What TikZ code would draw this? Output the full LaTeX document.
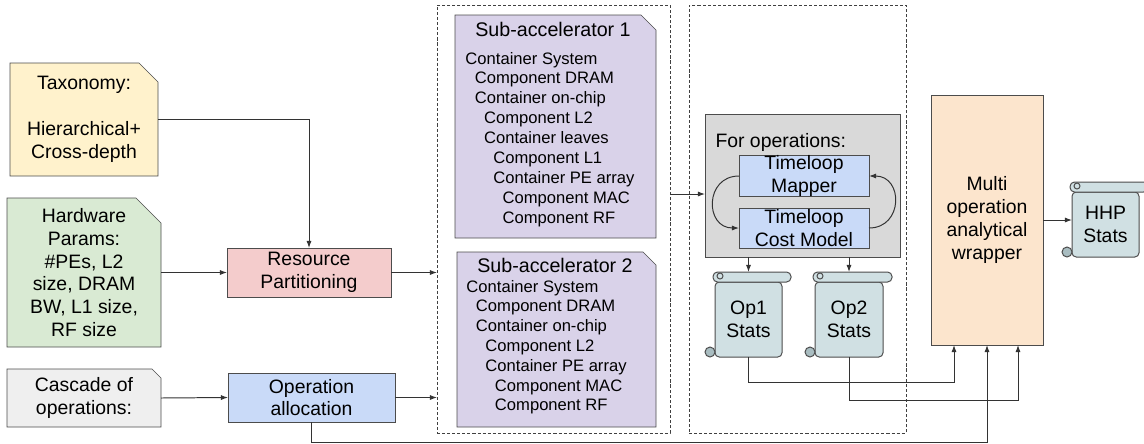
\documentclass[tikz,border=0pt]{standalone}
\usepackage{fontspec}
\setmainfont{Liberation Sans}
\usetikzlibrary{arrows.meta,calc,backgrounds}

\definecolor{taxfill}{HTML}{FFF2CC}
\definecolor{hwfill}{HTML}{D9EAD3}
\definecolor{cascfill}{HTML}{EFEFEF}
\definecolor{rpfill}{HTML}{F4CCCC}
\definecolor{blufill}{HTML}{C9DAF8}
\definecolor{subfill}{HTML}{D9D2E9}
\definecolor{opsfill}{HTML}{D9D9D9}
\definecolor{orfill}{HTML}{FCE5CD}
\definecolor{scrollfill}{HTML}{D0E0E3}
\definecolor{curlfill}{HTML}{A9BDC1}

\begin{document}
\begin{tikzpicture}[
  x=0.025cm, y=-0.025cm,
  line width=0.7pt,
  sz/.style 2 args={minimum width=#1*0.025cm, minimum height=#2*0.025cm},
  box/.style={draw=black!70, inner sep=0pt, outer sep=0pt, align=center,
    font=\fontsize{13.8}{16.2}\selectfont},
  note/.style={inner sep=0pt, outer sep=0pt, align=center,
    font=\fontsize{13.8}{16.2}\selectfont},
  scroll/.style={box, fill=scrollfill, rounded corners=3pt},
  frame/.style={draw=black!75, dash pattern=on 2.2pt off 1.4pt, inner sep=0pt, outer sep=0pt},
  title/.style={inner sep=0pt, font=\fontsize{14}{16}\selectfont},
  item/.style={inner sep=0pt, anchor=base west, font=\fontsize{11.8}{14.2}\selectfont},
  conn/.style={draw=black!80, -{Latex[length=5pt,width=3.6pt]}}
]
  \useasboundingbox (0,0) rectangle (1144,443);

  % dashed frames
  \node[frame, sz={233}{428}] (frame1) at (553.5,219) {};
  \node[frame, sz={217}{428}] (frame2) at (797.5,219) {};

  % inputs
  \node[note, sz={148}{113}] (tax) at (84,119.5) {Taxonomy:\\[16.2pt]Hierarchical+\\Cross-depth};
  \node[note, sz={154}{149}] (hw) at (84,272.5) {Hardware\\Params:\\\#PEs, L2\\size, DRAM\\BW, L1 size,\\RF size};
  \node[note, sz={154}{58}] (casc) at (84,398) {Cascade of\\operations:};

  \node[box, fill=rpfill, sz={164}{49}] (rp) at (309,272.5) {Resource\\Partitioning};
  \node[box, fill=blufill, sz={167}{49}] (opa) at (311.5,397.5) {Operation\\allocation};

  % sub-accelerators
  \node[note, sz={201}{223}] (sub1) at (555.5,126.5) {};
  \node[title] (sub1t) at (553,29) {Sub-accelerator 1};
  \foreach \txt/\lvl [count=\i] in {Container System/0, Component DRAM/1, Container on-chip/1,
      Component L2/2, Container leaves/2, Component L1/3, Container PE array/3,
      Component MAC/4, Component RF/4}
    \node[item] (sub1l\i) at (465+9.3*\lvl, 64+19.9*\i-19.9) {\txt};

  \node[note, sz={199}{175}] (sub2) at (556.5,339.5) {};
  \node[title] (sub2t) at (555,265) {Sub-accelerator 2};
  \foreach \txt/\lvl [count=\i] in {Container System/0, Component DRAM/1, Container on-chip/1,
      Component L2/2, Container PE array/2, Component MAC/3, Component RF/3}
    \node[item] (sub2l\i) at (466+9.5*\lvl, 292+19.8*\i-19.8) {\txt};

  \begin{scope}[on background layer]
    \foreach \n/\c/\f in {tax/19/taxfill, hw/25/hwfill, casc/9/cascfill, sub1/15/subfill, sub2/13/subfill}
      \draw[draw=black!70, fill=\f] (\n.north west) -- ($(\n.north east)+(-\c,0)$)
        -- ($(\n.north east)+(0,\c)$) -- (\n.south east) -- (\n.south west) -- cycle;
  \end{scope}

  % timeloop block
  \node[box, fill=opsfill, sz={195}{143}] (ops) at (802.5,185.5) {};
  \node[inner sep=0pt, anchor=west, font=\fontsize{13.8}{16.2}\selectfont] (opst) at (715,142) {For operations:};
  \node[box, fill=blufill, sz={130}{40}] (tmap) at (804,176) {Timeloop\\Mapper};
  \node[box, fill=blufill, sz={130}{40}] (tcost) at (804,228) {Timeloop\\Cost Model};

  \node[box, fill=orfill, sz={112}{250}] (wrap) at (987,220) {Multi\\operation\\analytical\\wrapper};

  % stats scrolls
  \node[scroll, sz={67}{75}] (op1) at (748.5,319.5) {Op1\\Stats};
  \node[scroll, sz={68}{75}] (op2) at (849,319.5) {Op2\\Stats};
  \node[scroll, sz={67}{65}] (hhp) at (1105.5,224.5) {HHP\\Stats};
  \foreach \s in {op1,op2,hhp} {
    \draw[draw=black!70, fill=scrollfill, rounded corners=3.2pt]
      ($(\s.north west)+(-2,-10)$) rectangle ($(\s.north east)+(9,0)$);
    \draw[draw=black!70] ($(\s.north west)+(5,-6)$) circle[radius=3];
    \draw[draw=black!70, fill=curlfill] ($(\s.south west)+(-5,-5)$) circle[radius=5];
  }

  % connectors
  \draw[conn] (tax.east) -| (rp.north);
  \draw[conn] (hw.east) -- (rp.west);
  \draw[conn] (casc.east) -- (opa.west);
  \draw[conn] (rp.east) -- (rp.east -| frame1.west);
  \draw[conn] (opa.east) -- (opa.east -| frame1.west);
  \coordinate (opsin) at ($(ops.west)+(0,8.5)$);
  \draw[conn] (opsin -| frame1.east) -- (opsin);
  \draw[conn] (tmap.west) to[out=180,in=180,looseness=1.7] (tcost.west);
  \draw[conn] (tcost.east) to[out=0,in=0,looseness=1.7] (tmap.east);
  \draw[conn] (ops.south -| op1.north) -- ($(op1.north)+(0,-10)$);
  \draw[conn] (ops.south -| op2.north) -- ($(op2.north)+(0,-10)$);
  \coordinate (w1) at ($(wrap.south)+(-33,0)$);
  \coordinate (w2) at (wrap.south);
  \coordinate (w3) at ($(wrap.south)+(31,0)$);
  \draw[conn] (op1.south) -- ++(0,25) -| (w1);
  \draw[conn] (op2.south) -- ++(0,43) -| (w3);
  \draw[conn] (opa.south) -- ++(0,20) -| (w2);
  \draw[conn] (wrap.east) -- (wrap.east -| hhp.west);
\end{tikzpicture}
\end{document}
